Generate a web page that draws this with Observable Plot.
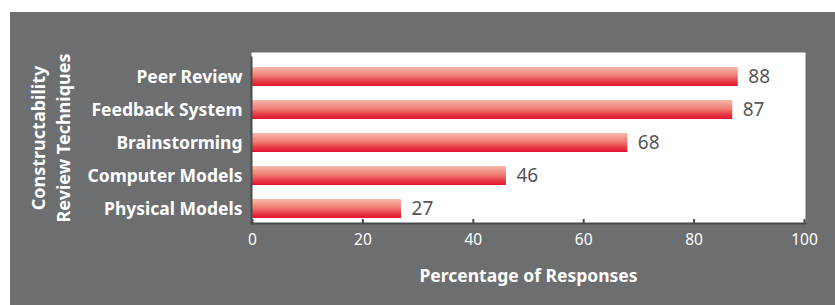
<!DOCTYPE html>
<html><head><meta charset="utf-8">
<script src="https://cdn.jsdelivr.net/npm/d3@7"></script>
<script src="https://cdn.jsdelivr.net/npm/@observablehq/plot@0.6"></script>
<style>
html,body{margin:0;padding:0;background:#fff;}
#chart{position:absolute;left:10px;top:12px;}
</style></head><body><div id="chart"></div>
<script>
const categories = ["Peer Review","Feedback System","Brainstorming","Computer Models","Physical Models"];
const values = [88, 87, 68, 46, 27];
const xTicks = [0, 20, 40, 60, 80, 100];
const xTitle = "Percentage of Responses";
const yTitle = ["Constructability", "Review Techniques"];

const data = categories.map((c, i) => ({technique: c, pct: values[i]}));

const gradientDefs = () => {
  const defs = d3.create("svg:defs");
  const g = defs.append("linearGradient").attr("id", "barGrad")
    .attr("x1", 0).attr("y1", 0).attr("x2", 0).attr("y2", 1);
  g.append("stop").attr("offset", "0%").attr("stop-color", "#f7baab");
  g.append("stop").attr("offset", "45%").attr("stop-color", "#ef7d74");
  g.append("stop").attr("offset", "80%").attr("stop-color", "#e63340");
  g.append("stop").attr("offset", "100%").attr("stop-color", "#e3132f");
  return defs.node();
};

const axisColor = "#4a4a4c";
const font = "'Noto Sans', sans-serif";

const chart = Plot.plot({
  width: 825, height: 293,
  marginLeft: 241, marginRight: 30, marginTop: 40, marginBottom: 82,
  style: {background: "#6d6e70", fontFamily: font, overflow: "visible"},
  x: {domain: [0, 100], insetLeft: 1, insetRight: 1},
  y: {domain: categories, insetTop: 13, insetBottom: 2, paddingInner: 0.41, paddingOuter: 0},
  marks: [
    Plot.frame({fill: "white"}),
    gradientDefs,
    Plot.barX(data, {x: "pct", y: "technique", fill: "url(#barGrad)"}),
    Plot.text(data, {x: "pct", y: "technique", text: d => String(d.pct), textAnchor: "start", dx: 10, fill: "#555658", fontSize: 19}),
    Plot.frame({anchor: "bottom", stroke: axisColor, strokeWidth: 2}),
    Plot.frame({anchor: "left", stroke: axisColor, strokeWidth: 2, insetTop: 5}),
    Plot.axisX({ticks: xTicks, tickSize: 4, dy: -4, tickFormat: () => "", label: null, stroke: axisColor, strokeWidth: 2}),
    Plot.axisX({ticks: xTicks, tickSize: 0, tickPadding: 10, fill: "white", fontSize: 15.5, label: null}),
    Plot.axisY({tickSize: 0, tickPadding: 9, fill: "white", fontSize: 17.5, fontWeight: "bold", label: null}),
    Plot.text([xTitle], {frameAnchor: "bottom", dy: 46, lineAnchor: "top", fill: "white", fontSize: 17.5, fontWeight: "bold"}),
    Plot.text([yTitle.join("\n")], {frameAnchor: "left", rotate: -90, dx: -202, lineAnchor: "middle", textAnchor: "middle", lineHeight: 1.4, fill: "white", fontSize: 18, fontWeight: "bold"})
  ]
});
document.getElementById("chart").appendChild(chart);
</script>
</body></html>
